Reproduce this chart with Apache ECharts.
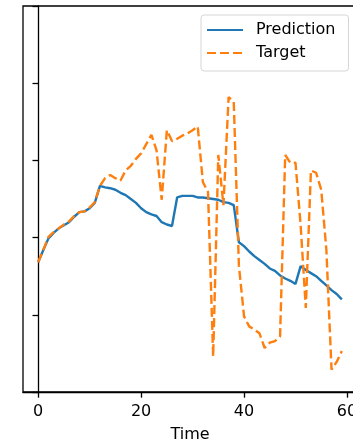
<!DOCTYPE html>
<html>
<head>
<meta charset="utf-8">
<script src="https://cdn.jsdelivr.net/npm/echarts@6/dist/echarts.min.js"></script>
<style>
html,body{margin:0;padding:0;background:#fff;}
#chart{width:353px;height:446px;}
</style>
</head>
<body>
<div id="chart"></div>
<script>
const time = [0,1,2,3,4,5,6,7,8,9,10,11,12,13,14,15,16,17,18,19,20,21,22,23,24,25,26,27,28,29,30,31,32,33,34,35,36,37,38,39,40,41,42,43,44,45,46,47,48,49,50,51,52,53,54,55,56,57,58,59];
const prediction = [1.68,1.84,1.99,2.06,2.12,2.16,2.20,2.27,2.33,2.34,2.38,2.45,2.67,2.65,2.64,2.62,2.58,2.55,2.50,2.45,2.38,2.33,2.30,2.28,2.20,2.17,2.15,2.52,2.54,2.54,2.54,2.52,2.52,2.51,2.50,2.49,2.46,2.45,2.42,1.94,1.89,1.82,1.76,1.71,1.66,1.60,1.57,1.51,1.47,1.44,1.40,1.63,1.58,1.54,1.50,1.44,1.38,1.32,1.27,1.20];
const target = [1.68,1.84,2.01,2.07,2.12,2.17,2.21,2.28,2.33,2.34,2.39,2.46,2.67,2.77,2.81,2.77,2.74,2.87,2.93,3.02,3.09,3.21,3.33,3.13,2.49,3.39,3.25,3.28,3.32,3.35,3.39,3.44,2.72,2.59,0.46,3.07,2.42,3.82,3.76,1.64,0.98,0.85,0.81,0.76,0.57,0.64,0.66,0.72,3.07,2.97,2.97,2.16,1.09,2.87,2.84,2.62,1.84,0.29,0.39,0.53];
const xTicks = [0,20,40,60];
const seriesNames = ['Prediction','Target'];

const chart = echarts.init(document.getElementById('chart'), null, {renderer:'canvas'});
const font = 'DejaVu Sans';
chart.setOption({
  animation:false,
  backgroundColor:'#ffffff',
  grid:{left:23,top:6,width:334,height:386,containLabel:false,outerBoundsMode:'none',
        show:true,borderColor:'#000',borderWidth:1.3,backgroundColor:'transparent'},
  legend:{
    orient:'vertical', left:201, top:15,
    padding:[7,13,10,5], itemGap:7, itemWidth:36, itemHeight:16,
    borderColor:'#d6d6d6', borderWidth:1, borderRadius:3, backgroundColor:'rgba(255,255,255,0.8)',
    itemStyle:{opacity:0},
    textStyle:{fontFamily:font,fontSize:16,color:'#000',lineHeight:16,padding:[0,0,0,8]},
    data:seriesNames
  },
  xAxis:{
    type:'value', min:-2.95, max:61.95,
    name:'Time', nameLocation:'middle', nameGap:35,
    nameTextStyle:{fontFamily:font,fontSize:16,color:'#000'},
    axisLine:{show:true,lineStyle:{color:'#000',width:1.3}},
    axisTick:{show:true,length:5.7,lineStyle:{color:'#000',width:1.3},customValues:xTicks},
    axisLabel:{show:true,margin:12,fontFamily:font,fontSize:16,color:'#000',customValues:xTicks},
    splitLine:{show:false}
  },
  yAxis:{
    type:'value', min:0, max:5, interval:1,
    axisLine:{show:true,lineStyle:{color:'#000',width:1.3}},
    axisTick:{show:true,length:5.7,lineStyle:{color:'#000',width:1.3}},
    axisLabel:{show:false},
    splitLine:{show:false}
  },
  series:[
    {name:seriesNames[0],type:'line',symbol:'none',showSymbol:false,
     data:time.map((t,i)=>[t,prediction[i]]),
     lineStyle:{color:'#1f77b4',width:2.4},itemStyle:{color:'#1f77b4'}},
    {name:seriesNames[1],type:'line',symbol:'none',showSymbol:false,
     data:time.map((t,i)=>[t,target[i]]),
     lineStyle:{color:'#ff7f0e',width:2.4,type:[9,4],cap:'butt'},itemStyle:{color:'#ff7f0e'}}
  ]
});
</script>
</body>
</html>
